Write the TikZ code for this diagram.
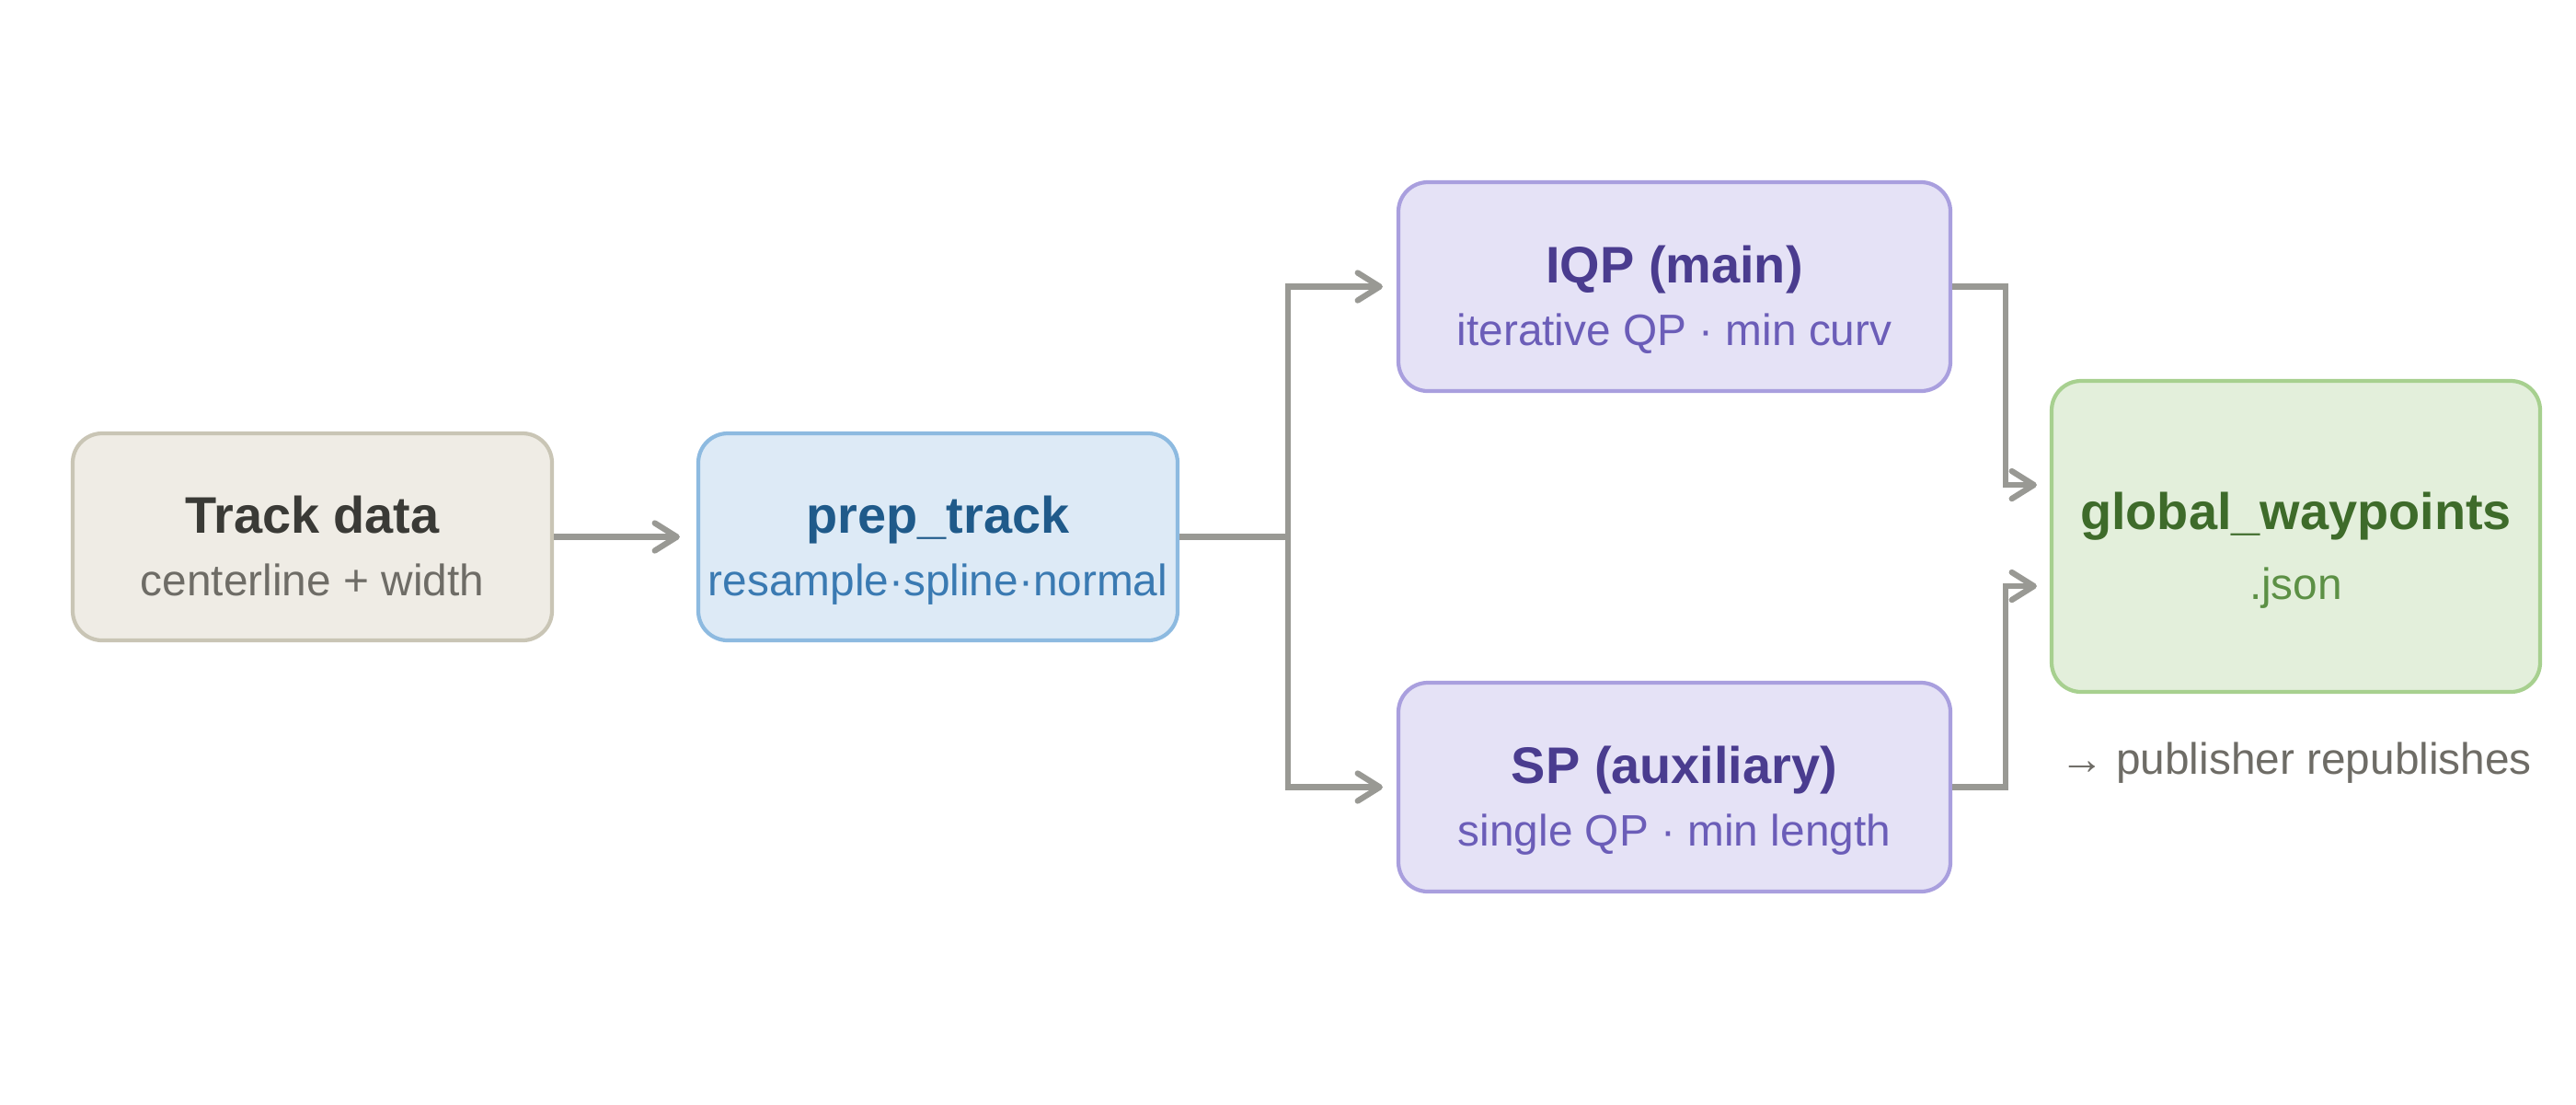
\documentclass[tikz,border=0pt]{standalone}
\usepackage{fontspec}
\setmainfont{Liberation Sans}
\usetikzlibrary{arrows.meta, positioning}
\definecolor{trackfill}{HTML}{EFECE5}
\definecolor{trackline}{HTML}{C9C5B5}
\definecolor{trackhead}{HTML}{3A3A36}
\definecolor{tracksub}{HTML}{6E6C66}
\definecolor{prepfill}{HTML}{DDEAF6}
\definecolor{prepline}{HTML}{8DBAE0}
\definecolor{prephead}{HTML}{1F5A8A}
\definecolor{prepsub}{HTML}{3A7AB2}
\definecolor{solvefill}{HTML}{E5E2F6}
\definecolor{solveline}{HTML}{A99FDE}
\definecolor{solvehead}{HTML}{4A3C8F}
\definecolor{solvesub}{HTML}{6B5DB8}
\definecolor{outfill}{HTML}{E3EFDB}
\definecolor{outline}{HTML}{A7D08F}
\definecolor{outhead}{HTML}{3E6B2A}
\definecolor{outsub}{HTML}{5C9045}
\definecolor{linkgray}{HTML}{999994}
\newcommand{\boxhead}[1]{{\fontsize{15.9}{19.4}\selectfont\bfseries\rule{0pt}{22.2pt}#1}}
\newcommand{\boxsub}[1]{#1\rule[-5pt]{0pt}{5pt}}
\tikzset{
	pipeline/.cd,
	box/.style = {
		draw,
		rounded corners = 0.32cm,
		line width = 1.2pt,
		align = center,
		inner sep = 0pt,
		minimum width = 5.21cm,
		minimum height = 2.25cm,
		font = \fontsize{13.6}{19.4}\selectfont
	},
	link/.style = {
		draw = linkgray,
		line width = 1.8pt,
		-{Straight Barb[length = 2.4mm, width = 3mm, round]},
		shorten > = 0.16cm
	},
}

\begin{document}
\begin{tikzpicture}[
		track/.style = {pipeline/box, fill = trackfill, draw = trackline, text = tracksub},
		prep/.style = {pipeline/box, fill = prepfill, draw = prepline, text = prepsub},
		solver/.style = {pipeline/box, fill = solvefill, draw = solveline, text = solvesub, minimum width = 6cm, minimum height = 2.27cm},
		output/.style = {pipeline/box, fill = outfill, draw = outline, text = outsub, minimum width = 5.31cm, minimum height = 3.38cm}]
		\useasboundingbox (0, 0) rectangle (28, -12);
		\node[track] (track) at (3.395, -5.835) {\boxhead{\color{trackhead}Track data}\\\boxsub{centerline + width}};
		\node[prep] (prep) at (10.195, -5.835) {\boxhead{\color{prephead}prep\_track}\\\boxsub{resample·spline·normal}};
		\node[solver] (iqp) at (18.2, -3.115) {\boxhead{\color{solvehead}IQP (main)}\\\boxsub{iterative QP · min curv}};
		\node[solver] (sp) at (18.2, -8.555) {\boxhead{\color{solvehead}SP (auxiliary)}\\\boxsub{single QP · min length}};
		\node[output] (global) at (24.955, -5.83) {\boxhead{\color{outhead}global\_waypoints}\\[2.2pt]\boxsub{.json}};
		\node[below = 0.52cm of global, inner sep = 0pt, text = tracksub, font = \fontsize{13.6}{20}\selectfont] (note) {→ publisher republishes};
		\coordinate (fork) at (14.0, -5.835);
		\coordinate (mergetop) at (21.8, -5.27);
		\coordinate (mergebot) at (21.8, -6.37);
		\draw[pipeline/link, shorten > = 0.18cm] (track) -- (prep);
		\draw[pipeline/link, shorten > = 0.15cm] (prep.east) -- (fork) |- (iqp.west);
		\draw[pipeline/link, shorten > = 0.15cm] (fork) |- (sp.west);
		\draw[pipeline/link, shorten > = 0.14cm] (iqp.east) -| (mergetop) -- (mergetop -| global.west);
		\draw[pipeline/link, shorten > = 0.14cm] (sp.east) -| (mergebot) -- (mergebot -| global.west);
	\end{tikzpicture}
\end{document}
